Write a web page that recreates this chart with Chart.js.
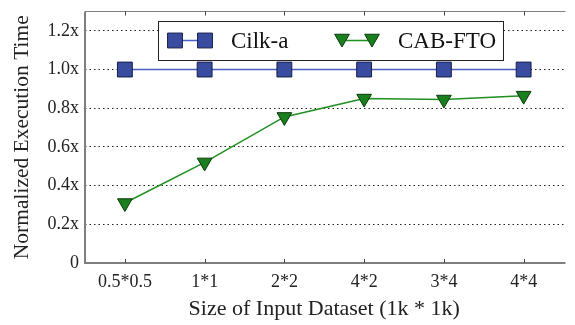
<!DOCTYPE html>
<html lang="en">
<head>
    <meta charset="UTF-8">
    <title>Normalized Execution Time</title>
    <style>
        html, body { margin: 0; padding: 0; background: #fff; }
        #wrap { width: 575px; height: 325px; }
    </style>
</head>
<body>
    <div id="wrap"><canvas id="myChart" width="575" height="325"></canvas></div>

    <script src="https://cdn.jsdelivr.net/npm/chart.js"></script>
    <script>
        // data
        const categories = ['0.5*0.5', '1*1', '2*2', '4*2', '3*4', '4*4'];
        const cilkValues = [1.0, 1.0, 1.0, 1.0, 1.0, 1.0];
        const cabValues = [0.31, 0.52, 0.755, 0.85, 0.845, 0.865];
        const yTickValues = [0, 0.2, 0.4, 0.6, 0.8, 1.0, 1.2];
        const yTickLabels = ['0', '0.2x', '0.4x', '0.6x', '0.8x', '1.0x', '1.2x'];

        const serif = '"Liberation Serif", "DejaVu Serif", serif';
        const axisGray = '#7f7f7f';

        // axis box + inward ticks, matlab style
        const frame = {
            id: 'frame',
            afterDatasetsDraw(chart) {
                const { ctx, chartArea: a, scales } = chart;
                ctx.save();
                ctx.strokeStyle = axisGray;
                ctx.lineWidth = 2;
                ctx.beginPath();
                ctx.moveTo(a.left, a.top);
                ctx.lineTo(a.left, a.bottom);
                ctx.lineTo(a.right + 2, a.bottom);
                ctx.stroke();
                ctx.lineWidth = 1.2;
                ctx.beginPath();
                ctx.moveTo(a.left, a.top);
                ctx.lineTo(a.right + 2, a.top);
                ctx.stroke();
                ctx.strokeStyle = '#444';
                ctx.lineWidth = 1;
                categories.forEach((c, i) => {
                    const x = Math.round(scales.x.getPixelForValue(i)) + 0.5;
                    ctx.beginPath();
                    ctx.moveTo(x, a.bottom);
                    ctx.lineTo(x, a.bottom - 4);
                    ctx.moveTo(x, a.top);
                    ctx.lineTo(x, a.top + 4);
                    ctx.stroke();
                });

                // legend box
                const bx = 158, by = 21, bw = 345, bh = 39;
                ctx.fillStyle = '#fff';
                ctx.fillRect(bx, by, bw, bh);
                ctx.strokeStyle = '#222';
                ctx.lineWidth = 1;
                ctx.strokeRect(bx + 0.5, by + 0.5, bw, bh);
                const cy = by + bh / 2;
                const items = [
                    { ds: chart.data.datasets[0], x1: 175, x2: 205, tx: 231 },
                    { ds: chart.data.datasets[1], x1: 342, x2: 372, tx: 398 }
                ];
                items.forEach(it => {
                    const ds = it.ds;
                    ctx.strokeStyle = ds.borderColor;
                    ctx.lineWidth = ds.borderWidth;
                    ctx.beginPath();
                    ctx.moveTo(it.x1, cy);
                    ctx.lineTo(it.x2, cy);
                    ctx.stroke();
                    [it.x1, it.x2].forEach(px => {
                        ctx.fillStyle = ds.pointBackgroundColor;
                        ctx.strokeStyle = ds.pointBorderColor;
                        ctx.lineWidth = ds.pointBorderWidth;
                        Chart.helpers.drawPoint(ctx, {
                            pointStyle: ds.pointStyle,
                            rotation: ds.pointRotation || 0,
                            radius: ds.pointRadius,
                            borderWidth: ds.pointBorderWidth
                        }, px, ds.pointStyle === 'triangle' ? cy - 2 : cy);
                    });
                    ctx.fillStyle = '#111';
                    ctx.font = '23px ' + serif;
                    ctx.textBaseline = 'middle';
                    ctx.textAlign = 'left';
                    ctx.fillText(ds.label, it.tx, cy + 1);
                });
                ctx.restore();
            }
        };

        new Chart(document.getElementById('myChart').getContext('2d'), {
            type: 'line',
            data: {
                labels: categories,
                datasets: [{
                    label: 'Cilk-a',
                    data: cilkValues,
                    borderColor: '#4a5fc8',
                    borderWidth: 1.5,
                    pointStyle: 'rect',
                    pointRadius: 10.5,
                    pointBackgroundColor: '#3a4ca0',
                    pointBorderColor: '#141e4a',
                    pointBorderWidth: 1,
                    tension: 0
                }, {
                    label: 'CAB-FTO',
                    data: cabValues,
                    borderColor: '#1f8f22',
                    borderWidth: 1.5,
                    pointStyle: 'triangle',
                    pointRotation: 180,
                    pointRadius: 8.5,
                    pointBackgroundColor: '#1a7f1e',
                    pointBorderColor: '#0b3a0d',
                    pointBorderWidth: 1,
                    tension: 0
                }]
            },
            options: {
                responsive: false,
                animation: false,
                layout: { padding: { top: 10, right: 0, left: 0, bottom: 0 } },
                plugins: { legend: { display: false }, tooltip: { enabled: false } },
                elements: { line: { clip: false } },
                scales: {
                    x: {
                        offset: true,
                        grid: { display: false },
                        border: { display: false },
                        ticks: { color: '#222', font: { family: serif, size: 18 }, padding: 0, maxRotation: 0 },
                        title: {
                            display: true,
                            text: 'Size of Input Dataset (1k * 1k)',
                            color: '#222',
                            font: { family: serif, size: 22 },
                            padding: { top: 0, bottom: 3 }
                        },
                        afterFit(s) { s.height = 62; }
                    },
                    y: {
                        min: 0,
                        max: 1.3,
                        grid: {
                            drawTicks: false,
                            color: ctx => ctx.tick && ctx.tick.value === 0 ? 'rgba(0,0,0,0)' : '#222',
                            lineWidth: 1
                        },
                        border: { display: false, dash: [1.5, 3] },
                        afterBuildTicks(s) { s.ticks = yTickValues.map(v => ({ value: v })); },
                        ticks: {
                            autoSkip: false,
                            padding: 6,
                            color: '#222',
                            font: { family: serif, size: 18 },
                            callback: (v, i) => yTickLabels[i]
                        },
                        title: {
                            display: true,
                            text: 'Normalized Execution Time',
                            color: '#222',
                            font: { family: serif, size: 21.5 },
                            padding: { top: 9, bottom: 0 }
                        },
                        afterFit(s) {
                            s.width = 85;
                            s.paddingTop = 0;
                            s.paddingBottom = 0;
                        }
                    }
                }
            },
            plugins: [frame]
        });
    </script>
</body>
</html>
